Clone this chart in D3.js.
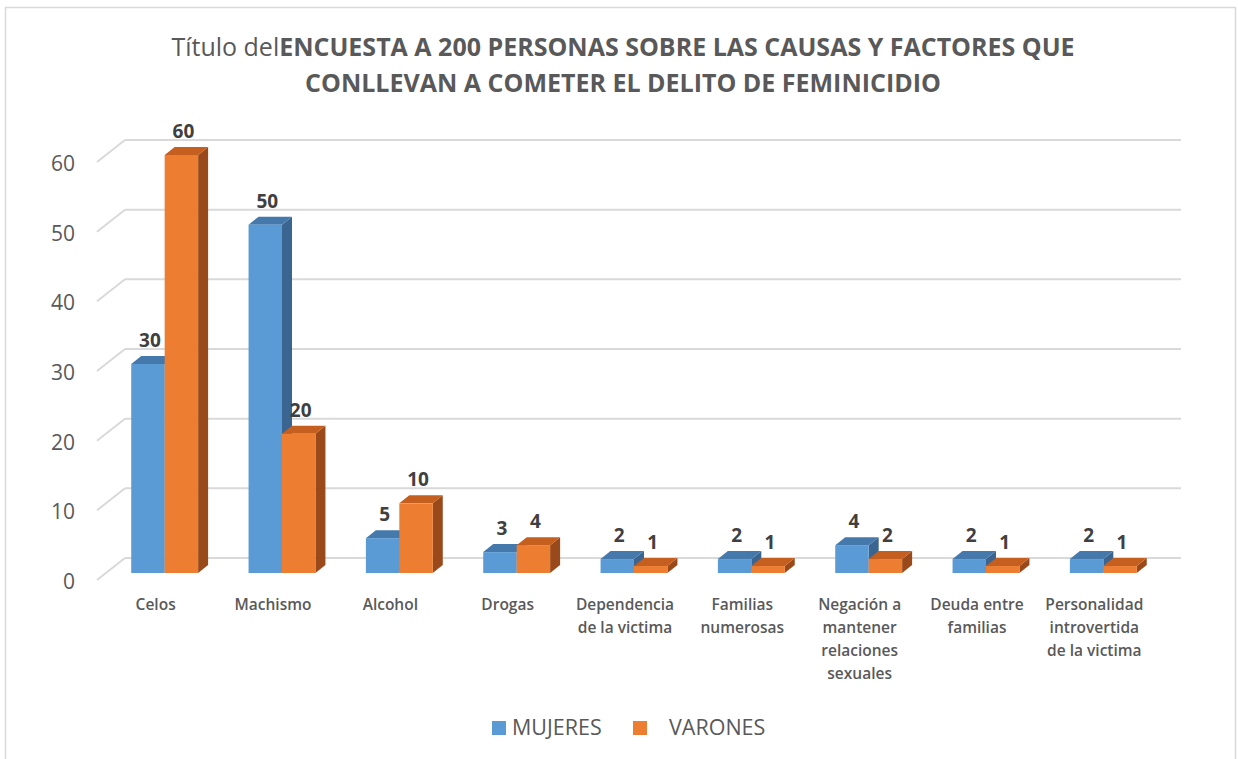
<!DOCTYPE html>
<html>
<head>
<meta charset="utf-8">
<script src="https://cdn.jsdelivr.net/npm/d3@7"></script>
<style>
  body { margin: 0; background: #fff; }
  svg text { font-family: "Open Sans", sans-serif; }
</style>
</head>
<body>
<div id="chart"></div>
<script>
// data
const categories = [
  "Celos", "Machismo", "Alcohol", "Drogas", "Dependencia de la victima",
  "Familias numerosas", "Negación a mantener relaciones sexuales",
  "Deuda entre familias", "Personalidad introvertida de la victima"
];
// labels as they wrap under the axis
const categoryLines = [
  ["Celos"], ["Machismo"], ["Alcohol"], ["Drogas"],
  ["Dependencia", "de la victima"], ["Familias", "numerosas"],
  ["Negación a", "mantener", "relaciones", "sexuales"],
  ["Deuda entre", "familias"], ["Personalidad", "introvertida", "de la victima"]
];
const seriesNames = ["MUJERES", "VARONES"];
const mujeres = [30, 50, 5, 3, 2, 2, 4, 2, 2];
const varones = [60, 20, 10, 4, 1, 1, 2, 1, 1];
const yTicks = [0, 10, 20, 30, 40, 50, 60];

const W = 1238, H = 759;
const colors = {
  MUJERES: { front: "#5B9BD5", top: "#4579AC", side: "#3A6590" },
  VARONES: { front: "#ED7D31", top: "#C55F1F", side: "#9A4A1A" }
};

// oblique 3d offsets relative to the bar front plane
const back = { dx: 19, dy: -15 };   // back wall
const front = { dx: -9, dy: 7 };    // front edge of the floor
const depth = { dx: 10, dy: -8 };   // bar depth

const svg = d3.select("#chart").append("svg")
  .attr("width", W).attr("height", H);

// outer border
svg.append("rect")
  .attr("x", 5.5).attr("y", 7.5)
  .attr("width", 1230).attr("height", 760)
  .attr("fill", "none").attr("stroke", "#d9d9d9").attr("stroke-width", 1.5);

const x0 = d3.scaleBand()
  .domain(categories)
  .range([106, 1162])
  .paddingInner(0.43)
  .paddingOuter(0.215);

const x1 = d3.scaleBand()
  .domain(seriesNames)
  .range([0, x0.bandwidth()]);

const y = d3.scaleLinear().domain([0, 60]).range([573, 155]);

// gridlines on back wall + side wall diagonals
const grid = svg.append("g");
const [xa, xb] = x0.range();
yTicks.forEach(t => {
  const yy = y(t);
  grid.append("line")
    .attr("x1", xa + back.dx).attr("x2", xb + back.dx)
    .attr("y1", yy + back.dy).attr("y2", yy + back.dy)
    .attr("stroke", "#d9d9d9").attr("stroke-width", 2);
  grid.append("line")
    .attr("x1", xa + back.dx).attr("y1", yy + back.dy)
    .attr("x2", xa + front.dx).attr("y2", yy + front.dy)
    .attr("stroke", "#d9d9d9").attr("stroke-width", 2);
});

// y tick labels
svg.append("g").selectAll("text")
  .data(yTicks)
  .join("text")
  .attr("x", xa + front.dx - 22)
  .attr("y", d => y(d) + front.dy + 9)
  .attr("text-anchor", "end")
  .attr("font-size", 21)
  .attr("fill", "#595959")
  .text(d => d);

// bars
const rows = categories.map((c, i) => ({ cat: c, MUJERES: mujeres[i], VARONES: varones[i] }));
const barG = svg.append("g");

rows.forEach(r => {
  seriesNames.forEach(s => {
    const v = r[s];
    const bx = x0(r.cat) + x1(s);
    const bw = x1.bandwidth();
    const top = y(v), base = y(0);
    const c = colors[s];
    const g = barG.append("g");
    // side face
    g.append("path")
      .attr("d", `M${bx + bw},${top} L${bx + bw + depth.dx},${top + depth.dy} L${bx + bw + depth.dx},${base + depth.dy} L${bx + bw},${base} Z`)
      .attr("fill", c.side);
    // top face
    g.append("path")
      .attr("d", `M${bx},${top} L${bx + depth.dx},${top + depth.dy} L${bx + bw + depth.dx},${top + depth.dy} L${bx + bw},${top} Z`)
      .attr("fill", c.top);
    // front face
    g.append("rect")
      .attr("x", bx).attr("y", top)
      .attr("width", bw).attr("height", base - top)
      .attr("fill", c.front);
  });
});

// data labels
rows.forEach(r => {
  seriesNames.forEach(s => {
    const v = r[s];
    svg.append("text")
      .attr("x", x0(r.cat) + x1(s) + x1.bandwidth() / 2 + 2)
      .attr("y", y(v) - 17)
      .attr("text-anchor", "middle")
      .attr("font-size", 19)
      .attr("font-weight", 700)
      .attr("fill", "#404040")
      .text(v);
  });
});

// category labels
const catG = svg.append("g");
categories.forEach((c, i) => {
  const t = catG.append("text")
    .attr("x", x0(c) + x0.bandwidth() / 2 - 9)
    .attr("y", 610)
    .attr("text-anchor", "middle")
    .attr("font-size", 15.5)
    .attr("font-weight", 600)
    .attr("fill", "#595959");
  categoryLines[i].forEach((ln, k) => {
    t.append("tspan")
      .attr("x", x0(c) + x0.bandwidth() / 2 - 9)
      .attr("dy", k === 0 ? 0 : 23)
      .text(ln);
  });
});

// title
const title = svg.append("g").attr("fill", "#595959");
const t1 = title.append("text")
  .attr("x", W / 2 + 4).attr("y", 56)
  .attr("text-anchor", "middle")
  .attr("font-size", 25);
t1.append("tspan").text("Título del");
t1.append("tspan").attr("font-weight", 700).text("ENCUESTA A 200 PERSONAS SOBRE LAS CAUSAS Y FACTORES QUE");
title.append("text")
  .attr("x", W / 2 + 4).attr("y", 92)
  .attr("text-anchor", "middle")
  .attr("font-size", 25)
  .attr("font-weight", 700)
  .text("CONLLEVAN A COMETER EL DELITO DE FEMINICIDIO");

// legend
const legend = svg.append("g");
const legendX = [492, 633];
const legendTextX = [512, 669];
seriesNames.forEach((s, i) => {
  legend.append("rect")
    .attr("x", legendX[i]).attr("y", 721)
    .attr("width", 14).attr("height", 14)
    .attr("fill", colors[s].front);
  legend.append("text")
    .attr("x", legendTextX[i]).attr("y", 735)
    .attr("font-size", 21.5)
    .attr("fill", "#595959")
    .text(s);
});
</script>
</body>
</html>
